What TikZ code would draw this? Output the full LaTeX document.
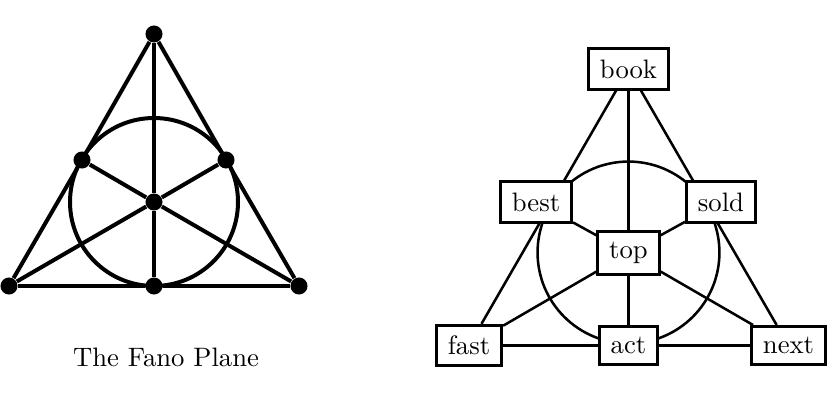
\documentclass[tikz,border=0pt]{standalone}
\usetikzlibrary{backgrounds}

\begin{document}
\begin{tikzpicture}[x=0.375pt,y=-0.375pt,
    dot/.style={circle,fill,inner sep=0pt,minimum size=6.4pt},
    word/.style={draw,fill=white,line width=1.1pt,inner xsep=4.3pt,inner ysep=4pt},
    link/.style={line width=0.95pt}]
  \useasboundingbox (0,0) rectangle (830,400);

  % the Fano plane
  \node[dot] (f_0) at (154,34) {};
  \node[dot] (f_1) at (82,160) {};
  \node[dot] (f_2) at (226,160) {};
  \node[dot] (f_3) at (154,202) {};
  \node[dot] (f_4) at (9,286) {};
  \node[dot] (f_5) at (154,286) {};
  \node[dot] (f_6) at (299,286) {};
  \node (caption) at (166,357) {The Fano Plane};

  \begin{scope}[line width=1.5pt]
    \draw (f_0) -- (f_1) -- (f_4);
    \draw (f_0) -- (f_2) -- (f_6);
    \draw (f_4) -- (f_5) -- (f_6);
    \draw (f_0) -- (f_3) -- (f_5);
    \draw (f_4) -- (f_3) -- (f_2);
    \draw (f_6) -- (f_3) -- (f_1);
    \draw (f_3.center) circle (31.5pt);
  \end{scope}

  % the same plane with words
  \node[word] (book) at (628.5,69) {book};
  \node[word] (best) at (536,202) {best};
  \node[word] (sold) at (721,202) {sold};
  \node[word] (top)  at (628.5,253) {top};
  \node[word] (fast) at (469,345.5) {fast};
  \node[word] (act)  at (628.5,345.5) {act};
  \node[word] (next) at (788.5,345.5) {next};

  \begin{scope}[on background layer]
    \draw[link] (book) -- (fast);
    \draw[link] (book) -- (next);
    \draw[link] (fast) -- (act) -- (next);
    \draw[link] (book) -- (top) -- (act);
    \draw[link] (best) -- (top) -- (next);
    \draw[link] (sold) -- (top) -- (fast);
    \draw[link] (628.5,252.5) circle (34.1pt);
  \end{scope}
\end{tikzpicture}
\end{document}
